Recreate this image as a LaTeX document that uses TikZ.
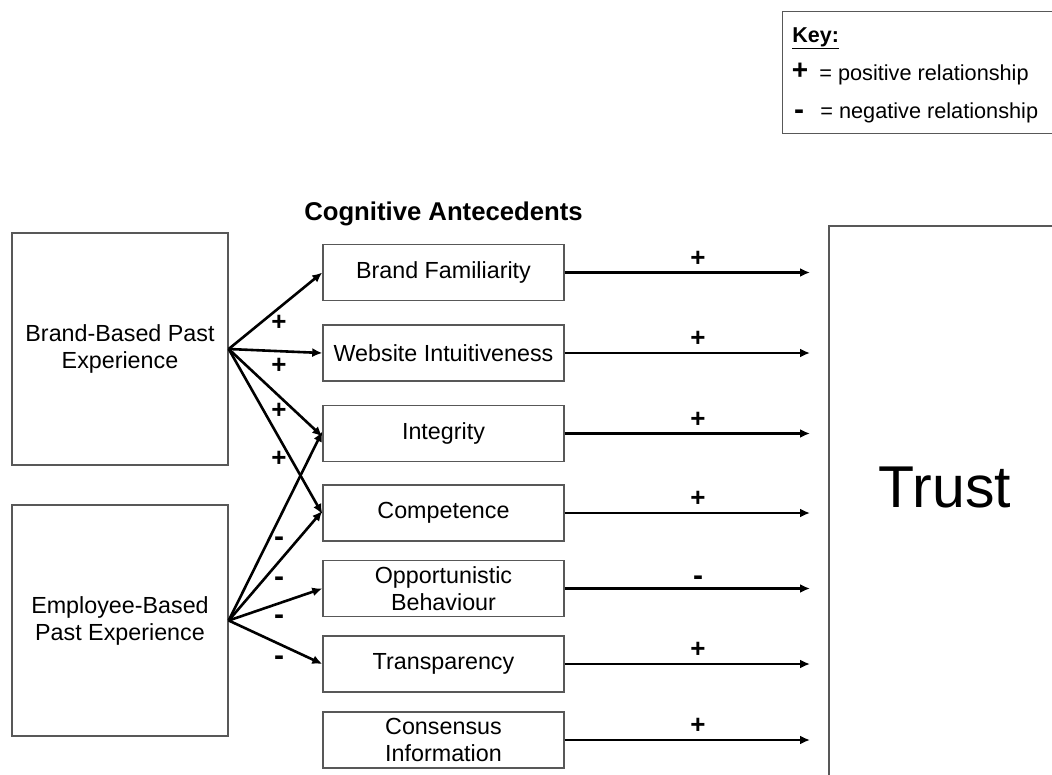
\documentclass[tikz,border=0pt]{standalone}
\usepackage{fontspec}
\setmainfont{Liberation Sans}
\usetikzlibrary{arrows.meta,positioning}

\tikzset{every picture/.style={line width=0.75pt}}
\definecolor{boxgrey}{RGB}{88,88,88}

\begin{document}
\begin{tikzpicture}[x=1pt,y=1pt,yscale=-1,xscale=1,
  antbox/.style={draw=boxgrey,line width=1.4pt,minimum width=241pt,minimum height=56pt,inner sep=0pt,align=center,font=\fontsize{23.3}{27}\selectfont},
  pastbox/.style={draw=boxgrey,line width=1.4pt,minimum width=216pt,inner sep=0pt,align=center,font=\fontsize{23.3}{27}\selectfont},
  conn/.style={line width=2.6pt,-{Latex[length=10pt,width=9pt]}},
  pluslbl/.style={inner sep=0pt,font=\fontsize{26}{26}\selectfont\bfseries},
  minuslbl/.style={inner sep=0pt,font=\fontsize{30}{30}\selectfont\bfseries},
  keytxt/.style={inner sep=0pt,anchor=base west,font=\fontsize{21.7}{21.7}\selectfont}]
\useasboundingbox (0,0) rectangle (1052,774);
\clip (0,0) rectangle (1052,774);

%Key box
\node [draw=boxgrey,line width=1.4pt,anchor=north west,minimum width=320pt,minimum height=122pt,inner sep=0pt] (key) at (782,11) {};
% Text Node
\node [keytxt,font=\fontsize{21.5}{21.5}\selectfont\bfseries] (keyhead) at (792,42) {\underline{Key:}};
\node [pluslbl,font=\fontsize{28}{28}\selectfont\bfseries] (keyplus) at (800,71) {+};
\node [keytxt] (keypos) at (819,80) {= positive relationship};
\node [minuslbl] (keyminus) at (799,115) {-};
\node [keytxt] (keyneg) at (820,118) {= negative relationship};

%Past experience boxes
\node [pastbox,minimum height=232pt] (bbpe) at (120,349) {Brand-Based Past\\Experience};
\node [pastbox,minimum height=231pt] (ebpe) at (120,620.5) {Employee-Based\\Past Experience};

%Cognitive antecedents
\node [antbox] (bf) at (443.5,272.5) {Brand Familiarity};
\node [antbox] (wi) at (443.5,353) {Website Intuitiveness};
\node [antbox] (integ) at (443.5,433.5) {Integrity};
\node [antbox] (comp) at (443.5,513) {Competence};
\node [antbox] (opp) at (443.5,588.5) {Opportunistic\\Behaviour};
\node [antbox] (transp) at (443.5,664) {Transparency};
\node [antbox] (cons) at (443.5,740) {Consensus\\Information};
\node [inner sep=0pt,font=\fontsize{25.7}{25.7}\selectfont\bfseries,above=17pt of bf] (cogant) {Cognitive Antecedents};

%Trust box
\node [draw=boxgrey,line width=1.6pt,anchor=north west,minimum width=300pt,minimum height=600pt,inner sep=0pt] (trust) at (828,225) {};
% Text Node
\node [inner sep=0pt,font=\fontsize{59}{59}\selectfont] (trusttxt) at (945,487) {Trust};

%Straight Lines from brand-based past experience
\draw [conn] (bbpe.east) -- (bf.west);
\draw [conn] (bbpe.east) -- (wi.west);
\draw [conn] (bbpe.east) -- ([yshift=3pt]integ.west);
\draw [conn] (bbpe.east) -- ([yshift=1pt]comp.west);
%Straight Lines from employee-based past experience
\draw [conn] (ebpe.east) -- ([yshift=-2pt]integ.west);
\draw [conn] (ebpe.east) -- ([yshift=-2pt]comp.west);
\draw [conn] (ebpe.east) -- (opp.west);
\draw [conn] (ebpe.east) -- (transp.west);

%Straight Lines to trust
\draw [conn,shorten >=18pt] (bf.east) -- (bf.east -| trust.west);
\draw [conn,shorten >=18pt] (wi.east) -- (wi.east -| trust.west);
\draw [conn,shorten >=18pt] (integ.east) -- (integ.east -| trust.west);
\draw [conn,shorten >=18pt] (comp.east) -- (comp.east -| trust.west);
\draw [conn,shorten >=18pt] (opp.east) -- (opp.east -| trust.west);
\draw [conn,shorten >=18pt] (transp.east) -- (transp.east -| trust.west);
\draw [conn,shorten >=18pt] (cons.east) -- (cons.east -| trust.west);

% Text Node
\node [pluslbl] (l1) at (279,323) {+};
\node [pluslbl] (l2) at (279,366) {+};
\node [pluslbl] (l3) at (279,411) {+};
\node [pluslbl] (l4) at (279,459) {+};
\node [minuslbl] (l5) at (279,542) {-};
\node [minuslbl] (l6) at (279,582) {-};
\node [minuslbl] (l7) at (279,620) {-};
\node [minuslbl] (l8) at (279,661) {-};
% Text Node
\node [pluslbl] (r1) at (698,258.5) {+};
\node [pluslbl] (r2) at (698,339) {+};
\node [pluslbl] (r3) at (698,419.5) {+};
\node [pluslbl] (r4) at (698,499) {+};
\node [minuslbl] (r5) at (698,581) {-};
\node [pluslbl] (r6) at (698,650) {+};
\node [pluslbl] (r7) at (698,726) {+};
\end{tikzpicture}
\end{document}
